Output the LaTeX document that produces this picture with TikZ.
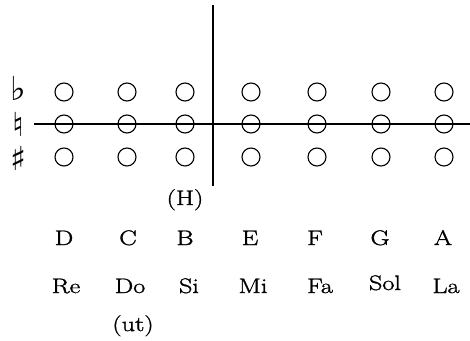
\documentclass[tikz,border=0pt]{standalone}
\usepackage{fontspec}
\newfontfamily\symfont{DejaVu Sans}
\newfontfamily\labelfont[FakeStretch=1.25,FakeBold=1.4]{Latin Modern Roman}
\begin{document}
\begin{tikzpicture}[x=1pt,y=-1pt,
  hole/.style={circle,draw,line width=1.1pt,minimum size=18pt,inner sep=0pt},
  axisline/.style={line width=1.4pt},
  notename/.style={font=\labelfont\fontsize{21}{24}\selectfont,anchor=base,inner sep=0pt},
  accid/.style={font=\symfont\fontsize{33}{36}\selectfont,inner sep=0pt}]
\useasboundingbox (0,0) rectangle (470,340);
% accidental signs
\node[accid] (flat) at (18,88) {♭};
\node[accid] (nat) at (18,124) {♮};
\node[accid] (sharp) at (18,158) {♯};
% axes
\coordinate (hl) at (34,124);
\coordinate (hr) at (470,124);
\coordinate (vt) at (213,5);
\coordinate (vb) at (213,186);
\draw[axisline] (hl) -- (hr);
\draw[axisline] (vt) -- (vb);
% three rows of holes for each note
\foreach \i/\x in {1/64,2/127,3/185,4/251,5/317,6/381,7/444}{
  \node[hole] (f\i) at (\x,92) {};
  \node[hole] (n\i) at (\x,124) {};
  \node[hole] (s\i) at (\x,157) {};
}
\node[notename] (H) at (185,205) {(H)};
% letter names
\foreach \i/\x/\t in {1/64/D,2/128/C,3/185/B,4/250/E,5/315/F,6/380/G,7/443/A}{
  \node[notename] (l\i) at (\x,245) {\t};
}
% syllable names
\foreach \i/\x/\t in {1/66/Re,2/130/Do,3/189/Si,4/253/Mi,5/320/Fa,7/446/La}{
  \node[notename] (y\i) at (\x,293) {\t};
}
\node[notename] (sol) at (385,290) {Sol};
\node[notename] (ut) at (133,331) {(ut)};
\end{tikzpicture}
\end{document}
